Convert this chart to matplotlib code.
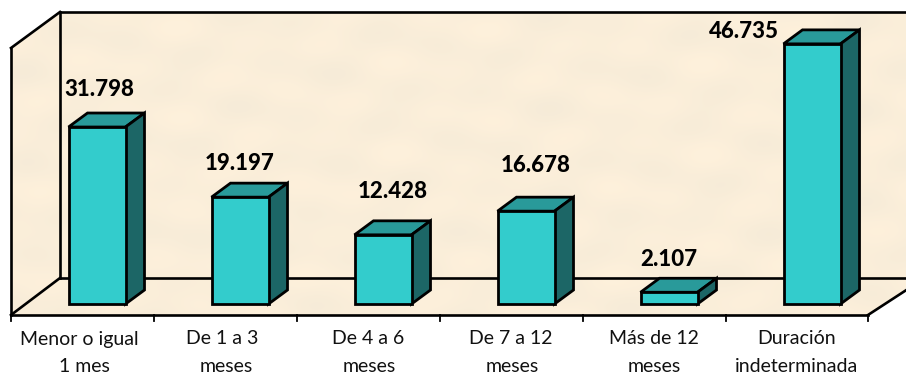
import numpy as np
import matplotlib
matplotlib.use("Agg")
import matplotlib.pyplot as plt
from matplotlib.patches import Polygon

categories = ["Menor o igual\n1 mes", "De 1 a 3\nmeses", "De 4 a 6\nmeses",
              "De 7 a 12\nmeses", "Más de 12\nmeses", "Duración\nindeterminada"]
values = [31798, 19197, 12428, 16678, 2107, 46735]
value_labels = ["31.798", "19.197", "12.428", "16.678", "2.107", "46.735"]

# pixel layout of the reference
W, H = 906, 374
BASE_PY = 304        # where value 0 sits on the bar front
PX_PER_VALUE = 0.005566
CAT_W = 143
BAR_W = 57
DX, DY = 19, 14      # bar depth

WALL = "#fdf2de"
FACE = "#33cccc"
TOP = "#299a9a"
SIDE = "#1c6666"
INK = "#000000"

plt.rcParams["font.family"] = ["Lato", "DejaVu Sans"]

fig = plt.figure(figsize=(W / 100, H / 100), dpi=100)
ax = fig.add_axes([0, 0, 1, 1])
xlim = (-97 / CAT_W, (W - 97) / CAT_W)
ylim = ((BASE_PY - H) / PX_PER_VALUE, BASE_PY / PX_PER_VALUE)
ax.axis("off")


def dx(px):
    return px / CAT_W


def dy(py):
    return py / PX_PER_VALUE


def pt(px, py):
    """Reference pixel position to data coordinates."""
    return ((px - 97) / CAT_W, (BASE_PY - py) / PX_PER_VALUE)


def poly(points, **kw):
    ax.add_patch(Polygon([pt(*p) for p in points], closed=True, **kw))


# walls and floor
poly([(60, 12), (W + 5, 12), (W + 5, 278), (60, 278)], fc=WALL, ec="none")
poly([(11, 48), (60, 12), (60, 278), (11, 315)], fc=WALL, ec="none")
poly([(11, 315), (60, 278), (W + 5, 278), (W + 5, 287), (868, 315)], fc=WALL, ec="none")

# soft mottling on the background
xx, yy = np.meshgrid(np.linspace(0, 1, 400), np.linspace(0, 1, 160))
mottle = (np.sin(xx * 37 + 1.2) * np.sin(yy * 23 + 0.4)
          + np.sin(xx * 71 + yy * 19) * 0.6 + np.sin(xx * 19 - yy * 41) * 0.7)
x0, y0 = pt(11, 12)
x1, y1 = pt(W, 315)
im = ax.imshow(mottle, extent=(x0, x1, y1, y0), cmap="copper", alpha=0.03,
               aspect="auto", zorder=1.5, interpolation="bilinear")
clip = Polygon([pt(11, 48), pt(60, 12), pt(W + 5, 12), pt(W + 5, 287), pt(868, 315), pt(11, 315)],
               closed=True, transform=ax.transData, fc="none", ec="none")
ax.add_patch(clip)
im.set_clip_path(clip)
ax.set_xlim(*xlim)
ax.set_ylim(*ylim)

# frame lines
line_kw = dict(color=INK, lw=1.9, solid_capstyle="projecting", zorder=2)
for a, b in [((11, 48), (60, 12)), ((60, 12), (W + 5, 12)), ((11, 48), (11, 315)),
             ((60, 12), (60, 278)), ((60, 278), (W + 5, 278)), ((11, 315), (60, 278)),
             ((11, 315), (868, 315)), ((868, 315), (W + 5, 287))]:
    ax.plot(*zip(pt(*a), pt(*b)), **line_kw)
for i in range(len(categories) + 1):
    px = min(11 + CAT_W * i, 868)
    ax.plot(*zip(pt(px, 315), pt(px, 321)), color=INK, lw=1.3, zorder=2)

# bars
half = dx(BAR_W) / 2
ox, oy = dx(DX), dy(DY)
bar_kw = dict(ec=INK, lw=2.0, joinstyle="miter", zorder=3)
for i, v in enumerate(values):
    ax.bar(i, v, width=2 * half, color=FACE, edgecolor=INK, linewidth=2.0, zorder=4)
    ax.add_patch(Polygon([(i - half, v), (i + half, v), (i + half + ox, v + oy), (i - half + ox, v + oy)],
                         closed=True, fc=TOP, **bar_kw))
    ax.add_patch(Polygon([(i + half, 0), (i + half + ox, oy), (i + half + ox, v + oy), (i + half, v)],
                         closed=True, fc=SIDE, **bar_kw))

# value labels sit where the reference put them
label_px = [(99, 90), (240, 163), (393, 192), (536, 165), (669, 259), (744, 32)]
for text, (px, py) in zip(value_labels, label_px):
    ax.text(*pt(px, py), text, ha="center", va="center", fontsize=16,
            fontweight=900, color=INK, zorder=5)

# category labels, the second rows are not quite under the first ones
first_cx = [79, 222, 368, 511, 654, 797]
second_cx = [84, 226, 369, 512, 654, 797]
for cx1, cx2, text in zip(first_cx, second_cx, categories):
    first, second = text.split("\n")
    ax.text(*pt(cx1, 339), first, ha="center", va="center", fontsize=14, color="#111111")
    ax.text(*pt(cx2, 366), second, ha="center", va="center", fontsize=14, color="#111111")

fig.savefig("out.png", dpi=100)
